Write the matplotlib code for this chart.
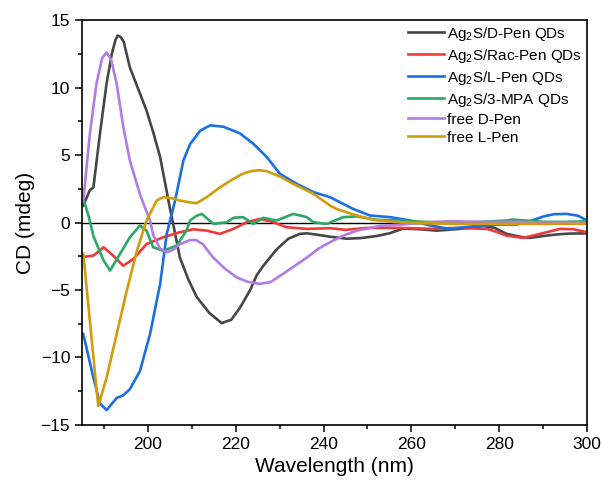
import numpy as np
import matplotlib.pyplot as plt

plt.rcParams['font.family'] = ['Liberation Sans', 'DejaVu Sans']
plt.rcParams['mathtext.fontset'] = 'custom'
plt.rcParams['mathtext.rm'] = 'Liberation Sans'
plt.rcParams['mathtext.default'] = 'regular'

# Ag2S/D-Pen QDs
x_dpen_qd = [185.3, 186.8, 187.6, 189.1, 190.6, 191.8, 192.6, 193.1, 193.8, 194.5, 195.9,
             197.8, 199.7, 201.3, 202.8, 205.0, 205.7, 207.3, 209.2, 211.1, 214.0, 216.8,
             219.0, 221.0, 223.3, 224.8, 226.3, 229.3, 232.0, 234.6, 236.2, 238.5, 241.5,
             245.3, 248.5, 252.1, 255.0, 258.1, 262.0, 265.8, 270.0, 274.9, 276.4, 279.0,
             281.7, 285.5, 287.0, 290.0, 293.1, 296.0, 300.0]
y_dpen_qd = [1.26, 2.4, 2.6, 6.6, 10.3, 12.5, 13.5, 13.85, 13.75, 13.4, 11.5,
             9.9, 8.3, 6.6, 4.85, 1.1, 0.0, -2.6, -4.2, -5.5, -6.7, -7.45,
             -7.2, -6.3, -5.0, -3.9, -3.2, -2.0, -1.2, -0.84, -0.8, -0.9, -1.05,
             -1.2, -1.15, -1.0, -0.8, -0.45, -0.5, -0.6, -0.5, -0.35, -0.25, -0.4,
             -0.84, -1.1, -1.14, -1.0, -0.88, -0.82, -0.8]

# Ag2S/Rac-Pen QDs
x_rac_qd = [185.3, 187.6, 189.9, 192.1, 194.4, 196.7, 199.7, 203.5, 207.3, 210.3, 213.4,
            216.4, 219.5, 222.5, 225.5, 228.6, 231.6, 236.2, 241.5, 245.0, 249.8, 257.4,
            265.0, 270.0, 277.2, 279.5, 281.7, 285.5, 289.3, 293.9, 297.0, 300.0]
y_rac_qd = [-2.55, -2.45, -1.83, -2.45, -3.2, -2.7, -1.6, -1.09, -0.72, -0.5, -0.6,
            -0.84, -0.47, 0.02, 0.27, 0.02, -0.35, -0.47, -0.42, -0.54, -0.4, -0.4,
            -0.47, -0.4, -0.47, -0.7, -0.97, -1.14, -0.84, -0.47, -0.5, -0.72]

# Ag2S/L-Pen QDs
x_lpen_qd = [185.3, 187.6, 189.1, 190.6, 192.9, 194.4, 195.9, 198.2, 200.5, 202.8, 204.3,
             206.2, 208.1, 209.6, 211.9, 214.2, 217.2, 221.0, 224.0, 227.1, 230.1, 233.9,
             237.7, 241.5, 243.0, 246.8, 250.6, 255.2, 259.7, 264.3, 268.8, 271.8, 276.4,
             280.0, 284.0, 287.0, 290.1, 292.5, 295.4, 298.0, 300.0]
y_lpen_qd = [-8.26, -11.5, -13.4, -13.9, -13.0, -12.8, -12.35, -11.0, -8.26, -4.55, -0.84,
             1.63, 4.6, 5.8, 6.8, 7.2, 7.1, 6.6, 5.84, 4.85, 3.6, 2.87,
             2.25, 1.88, 1.63, 1.0, 0.52, 0.4, 0.15, -0.22, -0.47, -0.35, -0.22,
             -0.15, -0.15, 0.1, 0.45, 0.62, 0.64, 0.5, 0.15]

# Ag2S/3-MPA QDs
x_mpa_qd = [185.3, 186.5, 187.6, 189.9, 191.4, 193.7, 195.9, 198.2, 199.7, 201.2, 203.5,
            206.6, 208.8, 209.6, 211.1, 212.3, 214.9, 218.0, 219.5, 221.7, 224.0, 226.3,
            229.3, 233.1, 236.2, 237.7, 240.7, 244.5, 247.6, 252.1, 257.4, 263.0, 270.0,
            276.0, 281.7, 283.0, 286.0, 290.0, 295.0, 300.0]
y_mpa_qd = [1.76, 0.5, -1.0, -2.8, -3.56, -2.3, -1.1, -0.22, -0.6, -1.83, -2.1,
            -1.7, -0.6, 0.15, 0.5, 0.64, -0.1, 0.02, 0.35, 0.4, -0.1, 0.35,
            0.15, 0.64, 0.4, 0.02, -0.1, 0.4, 0.45, 0.2, 0.15, 0.05, 0.0,
            0.05, 0.15, 0.22, 0.15, 0.05, 0.05, 0.1]

# free D-Pen
x_dpen = [185.3, 186.8, 188.3, 189.6, 190.6, 191.6, 192.9, 194.4, 195.9, 198.2, 199.0,
          200.5, 201.2, 202.8, 204.5, 205.8, 207.3, 209.6, 211.0, 212.5, 214.9, 217.5,
          220.2, 222.8, 225.5, 228.0, 230.8, 233.5, 236.2, 239.0, 242.2, 245.0, 247.6,
          252.9, 258.0, 263.0, 268.8, 275.0, 285.0, 290.0, 300.0]
y_dpen = [1.6, 6.6, 10.3, 12.2, 12.6, 12.1, 10.3, 7.1, 4.6, 2.1, 1.4,
          0.15, -0.9, -1.95, -2.2, -2.0, -1.6, -1.3, -1.3, -1.6, -2.6, -3.4,
          -4.06, -4.4, -4.55, -4.4, -3.8, -3.2, -2.6, -1.9, -1.34, -0.9, -0.6,
          -0.25, -0.15, 0.0, 0.1, 0.05, 0.05, 0.0, 0.0]

# free L-Pen
x_lpen = [185.3, 188.7, 190.6, 192.9, 195.2, 197.5, 199.7, 202.0, 203.5, 205.5, 207.3,
          209.5, 211.1, 213.4, 216.4, 219.5, 221.5, 223.3, 225.5, 227.1, 230.1, 233.1,
          237.7, 241.5, 243.0, 246.8, 251.3, 256.0, 262.0, 270.0, 280.0, 290.0, 300.0]
y_lpen = [-2.3, -13.6, -11.5, -8.26, -5.05, -2.1, 0.15, 1.63, 1.88, 1.8, 1.63,
          1.5, 1.43, 1.88, 2.6, 3.24, 3.6, 3.8, 3.88, 3.8, 3.4, 2.87,
          2.13, 1.26, 1.0, 0.6, 0.2, 0.05, -0.05, -0.1, -0.1, -0.1, -0.1]

fig = plt.figure(figsize=(6.01, 4.90), dpi=100)
ax = fig.add_axes([0.1364, 0.1327, 0.8403, 0.8263])

lw = 1.9
ax.plot(x_dpen_qd, y_dpen_qd, color='#464646', lw=lw, label='Ag$_2$S/D-Pen QDs')
ax.plot(x_rac_qd, y_rac_qd, color='#f03a3a', lw=lw, label='Ag$_2$S/Rac-Pen QDs')
ax.plot(x_lpen_qd, y_lpen_qd, color='#1a6ee6', lw=lw, label='Ag$_2$S/L-Pen QDs')
ax.plot(x_mpa_qd, y_mpa_qd, color='#2aa866', lw=lw, label='Ag$_2$S/3-MPA QDs')
ax.plot(x_dpen, y_dpen, color='#b27be6', lw=lw, label='free D-Pen')
ax.plot(x_lpen, y_lpen, color='#d29c0a', lw=lw, label='free L-Pen')
ax.axhline(0, color='black', lw=1.0, zorder=1)

ax.set_xlim(185, 300)
ax.set_ylim(-15, 15)
ax.set_xticks(np.arange(200, 301, 20))
ax.set_xticks(np.arange(190, 301, 10), minor=True)
ax.set_yticks(np.arange(-15, 16, 5))
ax.set_yticks(np.arange(-12.5, 15, 2.5), minor=True)
ax.tick_params(which='major', direction='out', length=5, width=1.1, labelsize=12.5)
ax.tick_params(which='minor', direction='out', length=3, width=1.1)
for s in ax.spines.values():
    s.set_linewidth(1.2)

ax.set_xlabel('Wavelength (nm)', fontsize=15)
ax.set_ylabel('CD (mdeg)', fontsize=15)

ax.legend(loc='upper right', frameon=False, fontsize=11, handlelength=2.35,
          handletextpad=0.2, labelspacing=0.26, borderpad=0.2, borderaxespad=0.1)

fig.savefig('out.png', dpi=100)
